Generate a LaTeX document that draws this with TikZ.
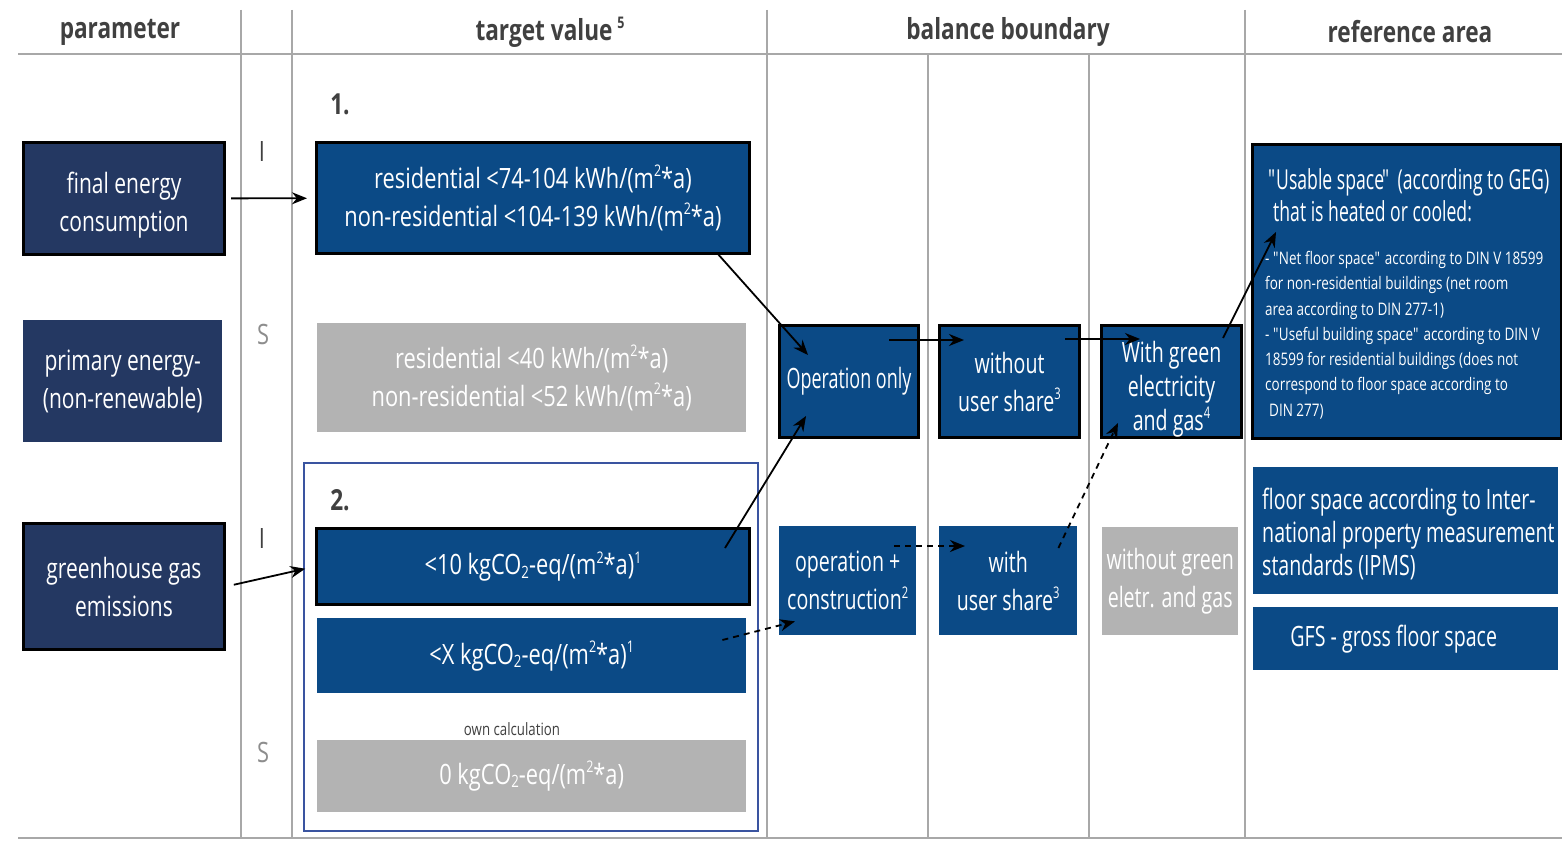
\documentclass[tikz,border=0pt]{standalone}
\usepackage{fontspec}
\setmainfont{Open Sans}[FakeStretch=0.70]
\newfontfamily\fmid{Open Sans}[FakeStretch=0.75]
\newfontfamily\fwide{Open Sans}[FakeStretch=0.78]
\newfontfamily\fnar{Open Sans}[FakeStretch=0.64]
\usetikzlibrary{arrows.meta,calc}
\definecolor{navy}{HTML}{243862}
\definecolor{blu}{HTML}{0B4A86}
\definecolor{gry}{HTML}{B3B3B3}
\definecolor{hdr}{HTML}{404040}
\definecolor{rulec}{HTML}{A8A8A8}
\definecolor{grp}{HTML}{3A54A0}
\definecolor{lbl}{HTML}{707070}
\newcommand\bx[7]{\node[#6, minimum width={#4-#2}, minimum height={#5-#3}, anchor=north west] (#1) at (#2,#3) {#7};}
\newcommand\sps[1]{\raisebox{0.42em}{\fontsize{16}{16}\selectfont #1}}
\newcommand\sbs[1]{\raisebox{-0.12em}{\fontsize{17}{17}\selectfont #1}}
\newcommand\qq{\textquotedbl}
\newcommand\lowr[2]{\raisebox{-#1}[\height][\depth]{\begin{tabular}{@{}c@{}}#2\end{tabular}}}
\begin{document}
\begin{tikzpicture}[x=1pt,y=-1pt,
  base/.style={inner sep=0pt, align=center, text=white, font=\fontsize{28}{38}\selectfont},
  navybox/.style={base, fill=navy, font=\fontsize{28}{38}\fmid},
  navyb/.style={navybox, draw=black, line width=3pt},
  bluebox/.style={base, fill=blu},
  blueb/.style={base, fill=blu, draw=black, line width=3pt},
  greybox/.style={base, fill=gry},
  numfont/.style={font=\fontsize{28}{38}\fwide},
  hdrtext/.style={text=hdr, font=\fontsize{29}{32}\fwide\bfseries},
  sidelbl/.style={text=lbl, font=\fontsize{28}{30}\fwide},
  wtext/.style={inner sep=0pt, anchor=north west, align=left, text=white},
  gridline/.style={draw=rulec, line width=1.5pt},
  arr/.style={-{Stealth[length=15pt,width=12pt]}, line width=1.8pt, black},
  darr/.style={arr, dash pattern=on 6pt off 5pt}
]
\useasboundingbox (0,0) rectangle (1562,843);
\fill[white] (0,0) rectangle (1562,843);
% grid
\draw[gridline] (18,54) -- (1562,54);
\draw[gridline] (18,838) -- (1562,838);
\draw[gridline] (241,10) -- (241,838);
\draw[gridline] (292,10) -- (292,838);
\draw[gridline] (767,10) -- (767,838);
\draw[gridline] (928,54) -- (928,838);
\draw[gridline] (1089,54) -- (1089,838);
\draw[gridline] (1245,10) -- (1245,838);
% headers
\node[hdrtext] (h1) at (120,32) {parameter};
\node[hdrtext] (h2) at (550,32) {target value\,\sps{5}};
\node[hdrtext] (h3) at (1008,32) {balance boundary};
\node[hdrtext] (h4) at (1410,32) {reference area};
% side labels
\node[sidelbl, text=hdr] (l1) at (262,152) {I};
\node[sidelbl, text=lbl!80] (l2) at (263,334) {S};
\node[sidelbl, text=hdr] (l3) at (262,538) {I};
\node[sidelbl, text=lbl!80] (l4) at (263,752) {S};
\node[hdrtext] (n1) at (340,104) {1.};
\node[hdrtext] (n2) at (340,500) {2.};
% group
\draw[draw=grp, line width=2.5pt] (304,463) rectangle (758,831);
% parameter boxes
\bx{fe}{22}{141}{223}{253}{navyb}{\lowr{6pt}{final energy\\consumption}}
\bx{pe}{23}{320}{222}{442}{navybox}{primary energy-\\(non-renewable)}
\bx{ghg}{22}{522}{223}{648}{navyb}{greenhouse gas\\emissions}
% target values
\bx{res1}{315}{141}{748}{252}{blueb,numfont}{residential <74-104 kWh/(m\sps{2}*a)\\non-residential <104-139 kWh/(m\sps{2}*a)}
\bx{res2}{317}{323}{746}{432}{greybox,numfont}{residential <40 kWh/(m\sps{2}*a)\\non-residential <52 kWh/(m\sps{2}*a)}
\bx{g10}{315}{527}{748}{603}{blueb,numfont}{<10 kgCO\sbs{2}-eq/(m\sps{2}*a)\sps{1}}
\bx{gx}{317}{618}{746}{693}{bluebox,numfont}{<X kgCO\sbs{2}-eq/(m\sps{2}*a)\sps{1}}
\node[text=hdr, font=\fontsize{17}{20}\fwide] (own) at (512,729) {own calculation};
\bx{g0}{317}{740}{746}{812}{greybox,numfont}{0 kgCO\sbs{2}-eq/(m\sps{2}*a)}
% balance boundary
\bx{op}{778}{324}{917}{436}{blueb, font=\fontsize{28}{38}\fnar}{Operation only}
\bx{wo}{938}{324}{1078}{436}{blueb}{without\\user share\sps{3}}
\bx{wg}{1100}{324}{1240}{436}{blueb, font=\fontsize{28}{34}\selectfont}{\lowr{8pt}{With green\\electricity\\and gas\sps{4}}}
\bx{oc}{779}{526}{916}{635}{bluebox}{operation +\\construction\sps{2}}
\bx{wu}{939}{526}{1077}{635}{bluebox}{with\\user share\sps{3}}
\bx{ng}{1102}{527}{1238}{635}{greybox}{without green\\eletr. and gas}
% reference area
\bx{us}{1251}{143}{1560}{437}{blueb}{}
\node[wtext, font=\fontsize{27.5}{32}\fnar] (ust) at (1268,168)
 {\qq\kern-3pt Usable space\kern-2pt\qq{} (according to GEG)\\\hspace*{5pt}that is heated or cooled:};
\node[wtext, font=\fontsize{17.3}{25.3}\fwide] (usl) at (1265,251)
 {- \qq\kern-1pt Net floor space\qq{} according to DIN V 18599\\for non-residential buildings (net room\\area according to DIN 277-1)\\- \qq\kern-1pt Useful building space\qq{} according to DIN V\\18599 for residential buildings (does not\\correspond to floor space according to\\\hspace*{4pt}DIN 277)};
\bx{ip}{1253}{467}{1558}{594}{bluebox}{}
\node[wtext, font=\fontsize{28}{33}\selectfont] (ipt) at (1262,488)
 {floor space according to Inter-\\national property measurement\\standards (IPMS)};
\bx{gfs}{1253}{607}{1558}{670}{bluebox}{\hspace*{-24pt}GFS - gross floor space}
% arrows
\draw[arr, shorten <=5pt, shorten >=8pt] (fe) -- (res1);
\draw[arr, shorten <=8pt, shorten >=10pt] (ghg.east) -- (g10.west);
\coordinate (a3s) at ($(res1.south east)+(-34,-2)$);
\coordinate (a3e) at ($(op.north west)+(30,31)$);
\draw[arr] (a3s) -- (a3e);
\coordinate (a4s) at ($(g10.north east)+(-26,21)$);
\coordinate (a4e) at ($(op.south west)+(28,-23)$);
\draw[arr] (a4s) -- (a4e);
\coordinate (a5s) at ($(op.north east)+(-31,16)$);
\coordinate (a5e) at ($(wo.north west)+(26,16)$);
\draw[arr] (a5s) -- (a5e);
\coordinate (a6s) at ($(wo.north east)+(-16,15)$);
\coordinate (a6e) at ($(wg.north west)+(40,15)$);
\draw[arr] (a6s) -- (a6e);
\coordinate (a7s) at ($(wg.north east)+(-20,14)$);
\coordinate (a7e) at ($(us.north west)+(25,89)$);
\draw[arr] (a7s) -- (a7e);
\coordinate (a8s) at ($(gx.north east)+(-24,22)$);
\coordinate (a8e) at ($(oc.south west)+(16,-14)$);
\draw[darr] (a8s) -- (a8e);
\coordinate (a9s) at ($(oc.north east)+(-22,20)$);
\coordinate (a9e) at ($(wu.north west)+(26,20)$);
\draw[darr] (a9s) -- (a9e);
\coordinate (a10s) at ($(wu.north east)+(-19,22)$);
\coordinate (a10e) at ($(wg.south west)+(18,-16)$);
\draw[darr] (a10s) -- (a10e);
\end{tikzpicture}
\end{document}
